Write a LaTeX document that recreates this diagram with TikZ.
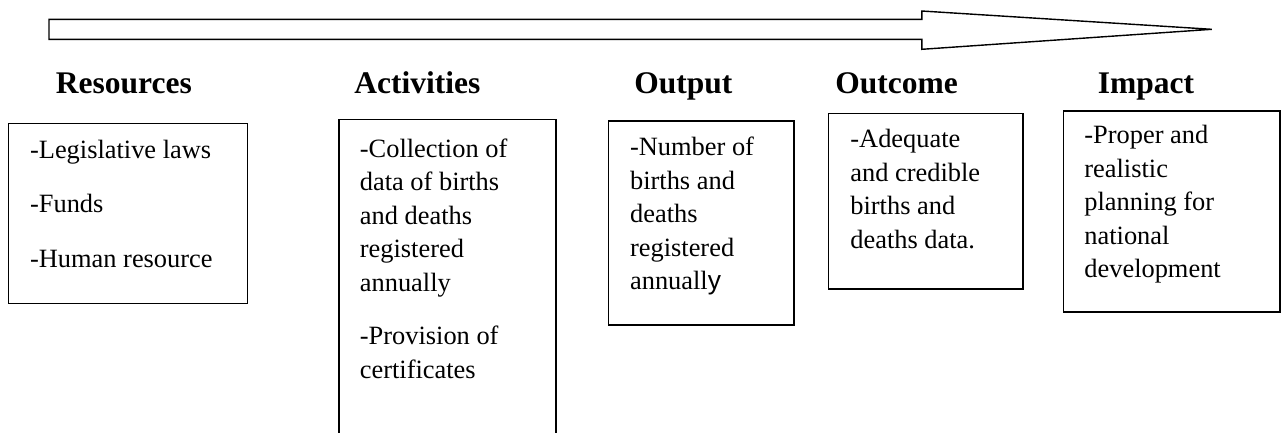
\documentclass[tikz,border=0pt]{standalone}
\usepackage{fontspec}
\setmainfont{Liberation Serif}
\newfontfamily\sansletter{Liberation Sans}
\begin{document}
\begin{tikzpicture}[x=1pt,y=-1pt]
\tikzstyle{every node}+=[inner sep=0pt]
\tikzstyle{heading}=[anchor=base,font=\fontsize{31.5}{36}\selectfont\bfseries]
\tikzstyle{entry}=[anchor=north west,align=left,font=\fontsize{26.4}{33.5}\selectfont]
\tikzstyle{framebox}=[black,line width=1.6pt]
\useasboundingbox (0,0) rectangle (1285,432);
\clip (0,0) rectangle (1285,432);
\draw [black,line width=1.4pt] (49,19.3) -- (921.8,19.3) -- (921.8,11) -- (1211.8,29.3)
  -- (921.8,49.3) -- (921.8,39.3) -- (49,39.3) -- cycle;

\draw (123.9,93.3) node [heading] (hres) {Resources};
\draw (417.3,93.3) node [heading] (hact) {Activities};
\draw (683.3,93.3) node [heading] (hout) {Output};
\draw (896.7,93.3) node [heading] (hotc) {Outcome};
\draw (1146,93.3) node [heading] (himp) {Impact};

\draw [framebox] (8.4,123.3) rectangle (247.6,303.3);
\draw (29.9,140) node [entry] (tres) {-Legislative laws\\[20.8pt]-Funds\\[20.8pt]-Human resource};

\draw [framebox] (338.7,119.3) rectangle (555.7,470);
\draw (359.7,138.7) node [entry] (tact) {-Collection of\\data of births\\and deaths\\registered\\annually\\[19.8pt]-Provision of\\certificates};

\draw [framebox] (608.6,121) rectangle (793.9,325);
\draw (629.9,137) node [entry] (tout) {-Number of\\births and\\deaths\\registered\\annuall{\sansletter y}};

\draw [framebox] (828.5,113.3) rectangle (1023,289);
\draw (850.2,129.3) node [entry] (totc) {-Adequate\\and credible\\births and\\deaths data.};

\draw [framebox] (1063.4,110.7) rectangle (1280.2,311.7);
\draw (1084.2,125.3) node [entry] (timp) {-Proper and\\realistic\\planning for\\national\\development};
\end{tikzpicture}
\end{document}
